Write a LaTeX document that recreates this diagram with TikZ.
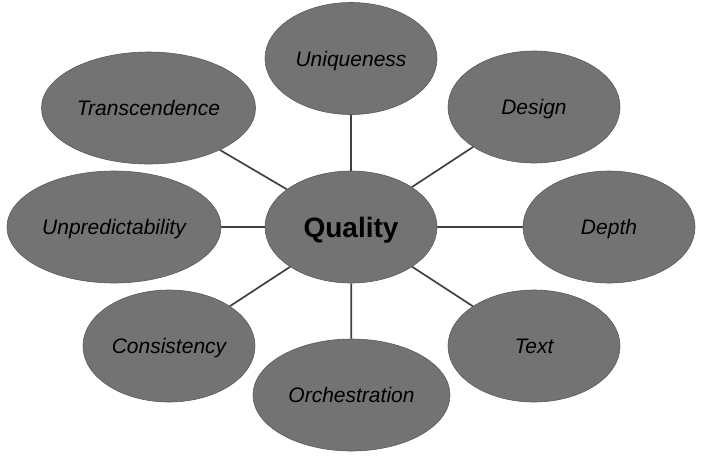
\documentclass[tikz,border=0pt]{standalone}
\usepackage{fontspec}
\setmainfont{Liberation Sans}
\usetikzlibrary{shapes.geometric}
\definecolor{bubble}{HTML}{737373}
\definecolor{rim}{HTML}{5A5A5A}
\definecolor{link}{HTML}{404040}
\tikzset{
  bub/.style={ellipse, fill=bubble, draw=rim, line width=0.6pt, inner sep=0pt,
    minimum width=172pt, minimum height=112pt, font=\fontsize{21}{24}\selectfont\itshape, text=black,
    text height=15pt, text depth=0pt},
  wide/.style={minimum width=214pt},
  orch/.style={minimum width=197pt},
  hub/.style={font=\fontsize{28}{32}\selectfont\bfseries, text height=20pt},
  conn/.style={draw=link, line width=1.7pt}
}
\begin{document}
\begin{tikzpicture}[x=1pt,y=-1pt]
\useasboundingbox (0,0) rectangle (704,456);
\node[bub,hub] (q) at (351,227) {Quality};
\node[bub] (u) at (351,58.5) {Uniqueness};
\node[bub] (d) at (534,107) {Design};
\node[bub] (dp) at (609,227) {Depth};
\node[bub] (t) at (534,346) {Text};
\node[bub,orch] (o) at (351.5,395) {Orchestration};
\node[bub] (c) at (169,346) {Consistency};
\node[bub,wide] (up) at (114,227) {Unpredictability};
\node[bub,wide] (tr) at (148.5,108) {Transcendence};
\draw[conn] (q) -- (u);
\draw[conn] (q) -- (d);
\draw[conn] (q) -- (dp);
\draw[conn] (q) -- (t);
\draw[conn] (q) -- (o);
\draw[conn] (q) -- (c);
\draw[conn] (q) -- (up);
\draw[conn] (q) -- (tr);
\end{tikzpicture}
\end{document}
